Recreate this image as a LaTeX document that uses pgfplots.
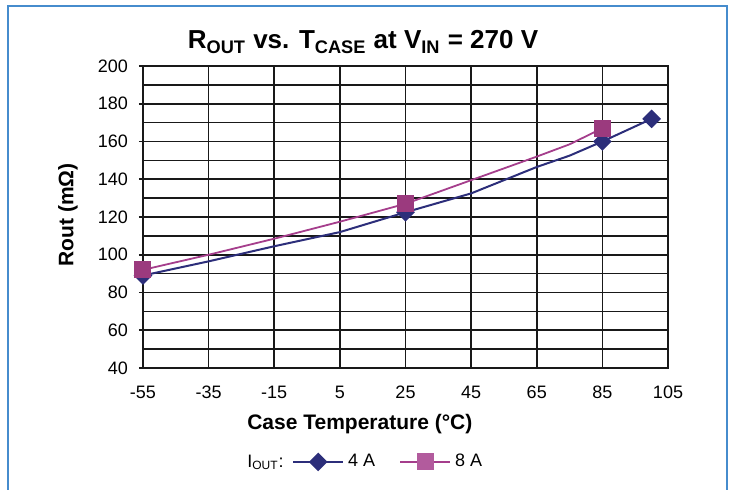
\documentclass[border=0pt]{standalone}
\usepackage{pgfplots}
\pgfplotsset{compat=1.18}
\usepackage{fontspec}
\setmainfont{Liberation Sans}
\definecolor{navy}{RGB}{44,46,122}
\definecolor{mag}{RGB}{165,62,140}
\definecolor{magmark}{RGB}{155,58,126}
\definecolor{framec}{RGB}{70,140,205}
\definecolor{gridc}{RGB}{25,25,25}

\begin{document}
\begin{tikzpicture}
\useasboundingbox (-71.5pt,-61pt) rectangle (297pt,184pt);
\draw[framec, line width=1pt] (-67.5pt,-61pt) -- (-67.5pt,181pt) -- (292pt,181pt) -- (292pt,-61pt);
\node[font=\fontsize{13}{15}\selectfont\bfseries] at (110pt,163pt) {R\textsubscript{OUT} vs. T\textsubscript{CASE} at V\textsubscript{IN} = 270 V};
\node[anchor=east, font=\fontsize{9}{10}\selectfont, inner sep=0pt] at (70.5pt,-47pt) {I\textsubscript{OUT}:};
\begin{axis}[
  at={(0pt,0pt)}, anchor=south west,
  scale only axis, width=262.5pt, height=151pt,
  xmin=-55, xmax=105, ymin=40, ymax=200,
  xtick={-55,-35,-15,5,25,45,65,85,105},
  xticklabels={-55,-35,-15,5,25,45,65,85,105},
  ytick={40,60,...,200},
  yticklabels={40,60,80,100,120,140,160,180,200},
  minor ytick={50,70,...,190},
  ytick pos=left,
  xmajorgrids, ymajorgrids, yminorgrids,
  grid style={gridc, line width=0.8pt},
  minor grid style={gridc, line width=0.8pt},
  axis line style={gridc, line width=0.8pt},
  tick align=outside,
  major tick length=2pt, minor tick length=0pt,
  tick style={gridc, line width=0.8pt},
  xtick style={draw=none},
  ticklabel style={font=\fontsize{9}{10}\selectfont},
  xticklabel style={yshift=-3.5pt},
  yticklabel style={xshift=-2pt},
  xlabel={Case Temperature (°C)},
  xlabel style={at={(axis description cs:0.413,-0.185)}, anchor=center, font=\fontsize{10.5}{12}\selectfont\bfseries},
  ylabel={Rout (mΩ)},
  ylabel style={at={(axis description cs:-0.143,0.507)}, anchor=center, rotate=0, font=\fontsize{10.5}{12}\selectfont\bfseries},
  legend style={draw=none, fill=none, at={(0.272,-0.311)}, anchor=west,
    font=\fontsize{9}{10}\selectfont, legend columns=-1,
    /tikz/every even column/.append style={column sep=10pt}},
  legend image code/.code={\draw[mark repeat=2,mark phase=2] plot coordinates {(0pt,0pt)(12.5pt,0pt)(25pt,0pt)};},
]
\addplot[navy, line width=1pt, mark=square*, mark size=2.8pt, mark options={rotate=45, solid}, mark indices={1,5,9,10}, forget plot]
 coordinates {(-55,89) (-35,96.5) (-15,104.5) (5,112) (25,122.5) (45,132.5) (65,146.5) (75,152.5) (85,160) (100,172)};
\addplot[mag, line width=0.9pt, mark=square*, mark size=3.8pt, mark options={fill=magmark, draw=magmark}, mark indices={1,5,9}, forget plot]
 coordinates {(-55,92) (-35,100) (-15,108.5) (5,117.5) (25,127) (45,139.5) (65,152) (75,158.5) (85,167)};
\addlegendimage{navy, line width=1pt, mark=square*, mark size=2.8pt, mark options={rotate=45}}
\addlegendentry{4 A}
\addlegendimage{mag, line width=0.9pt, mark=square*, mark size=3.8pt, mark options={fill=mag!85, draw=mag!85}}
\addlegendentry{8 A}
\end{axis}
\end{tikzpicture}
\end{document}
